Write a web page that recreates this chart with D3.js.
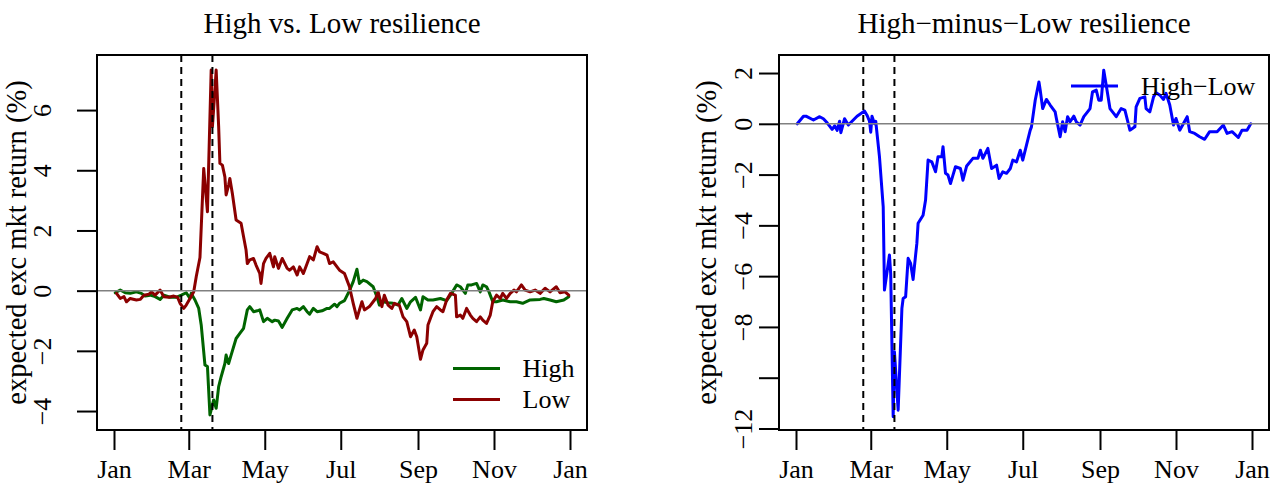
<!DOCTYPE html>
<html><head><meta charset="utf-8">
<script src="https://cdn.jsdelivr.net/npm/d3@7"></script>
<style>
html,body{margin:0;padding:0;background:#fff;}
svg{display:block;}
text{font-family:"Liberation Serif","Times New Roman",serif;fill:#000;}
</style></head><body>
<svg id="chart" width="1280" height="489"></svg>
<script>
// ---------------- data ----------------
// x values are days since 2020-01-01
const yearStart = "2020-01-01";
const monthTicks = ["2020-01-01","2020-03-01","2020-05-01","2020-07-01","2020-09-01","2020-11-01","2021-01-01"];
const eventDays = [54, 79];

const highDays = [1,5,9,13,18,22,25,29,33,37,
 40,45,50,54,58,61,62,65,68,70,
 73,75,77,80,82,84,86,89,90,92,
 94,98,101,104,107,109,112,115,117,120,
 123,127,129,132,135,139,143,147,149,152,
 155,157,160,163,167,171,173,177,179,181,
 185,189,192,195,197,200,203,208,211,213,
 216,220,224,228,231,235,238,242,246,248,
 252,256,262,267,271,275,278,282,284,287,
 291,294,296,299,301,304,307,312,318,323,
 328,334,342,345,350,355,361,365];
const highValues = [-0.07,0.02,-0.07,-0.09,-0.04,-0.09,-0.18,-0.15,-0.20,-0.29,
 -0.15,-0.22,-0.22,-0.15,-0.07,-0.26,-0.09,-0.31,-0.59,-1.14,
 -2.47,-2.52,-4.13,-3.63,-3.91,-3.19,-2.86,-2.42,-2.14,-2.42,
 -2.14,-1.59,-1.42,-1.25,-0.64,-0.53,-0.70,-0.67,-0.64,-1.03,
 -0.92,-1.03,-0.98,-1.01,-1.22,-0.92,-0.64,-0.59,-0.64,-0.53,
 -0.70,-0.78,-0.59,-0.70,-0.67,-0.59,-0.59,-0.45,-0.53,-0.42,
 -0.33,0.00,0.30,0.71,0.24,0.35,0.30,0.13,-0.20,-0.48,
 -0.37,-0.40,-0.42,-0.48,-0.26,-0.59,-0.37,-0.22,-0.64,-0.20,
 -0.31,-0.31,-0.26,-0.33,-0.09,0.19,0.13,-0.09,0.19,0.19,
 0.24,-0.04,0.19,0.13,-0.04,-0.37,-0.37,-0.31,-0.37,-0.37,
 -0.42,-0.31,-0.29,-0.26,-0.31,-0.37,-0.31,-0.20];

const lowDays = [2,5,8,10,13,18,21,24,28,30,
 33,37,40,44,48,51,53,56,58,61,
 64,66,69,72,75,78,79,81,82,84,
 85,87,89,90,92,93,95,98,102,104,
 106,107,109,112,114,117,118,120,122,125,
 128,129,132,135,139,141,144,147,149,152,
 155,157,160,163,165,168,171,173,176,179,
 181,185,187,189,192,195,197,199,201,205,
 208,210,212,215,217,220,223,225,229,232,
 235,238,241,243,246,248,251,252,254,256,
 259,262,264,267,270,274,275,278,280,283,
 286,288,291,294,296,299,302,304,307,310,
 312,315,318,321,323,327,330,334,338,342,
 346,350,355,358,362,365];
const lowValues = [-0.09,-0.26,-0.20,-0.37,-0.26,-0.31,-0.29,-0.15,-0.12,-0.04,
 -0.15,0.02,-0.20,-0.22,-0.18,-0.22,-0.42,-0.59,-0.48,-0.26,
 -0.04,0.46,1.10,4.06,2.62,7.33,5.45,6.66,7.33,5.45,
 4.23,4.17,3.78,3.18,3.51,3.73,3.23,2.35,2.24,1.79,
 1.35,0.90,1.02,1.07,0.85,0.57,0.24,0.90,1.07,1.24,
 0.79,1.13,0.74,1.07,0.74,0.68,0.79,0.52,0.79,0.57,
 0.90,1.13,1.02,1.46,1.29,1.24,1.18,0.90,0.96,0.79,
 0.68,0.57,0.35,0.13,-0.42,-0.92,-0.64,-0.37,-0.64,-0.53,
 -0.37,-0.26,-0.04,-0.53,-0.15,-0.48,-0.59,-0.42,-0.48,-0.87,
 -1.03,-1.53,-1.31,-1.53,-2.28,-1.97,-1.75,-1.14,-0.92,-0.70,
 -0.53,-0.64,-0.70,-0.31,-0.09,-0.15,-0.87,-0.81,-0.92,-0.59,
 -0.81,-0.92,-1.03,-0.87,-0.98,-1.09,-0.81,-0.37,-0.15,-0.26,
 -0.09,-0.26,-0.09,0.02,-0.04,0.19,0.02,-0.04,0.02,-0.09,
 0.08,-0.04,0.13,-0.07,-0.04,-0.15];

const diffDays = [1,6,8,14,19,22,25,29,31,33,
 35,36,39,42,45,49,55,57,59,60,
 61,63,64,67,70,71,75,76,78,79,
 82,85,86,88,90,92,94,96,97,98,
 102,104,106,109,112,114,117,118,120,122,
 124,126,128,132,134,137,142,146,148,150,
 154,157,161,163,166,169,172,174,177,180,
 182,185,188,189,192,195,196,198,201,204,
 208,209,212,214,216,218,220,223,225,228,
 231,234,236,238,241,243,245,247,249,252,
 255,257,261,264,268,272,273,276,280,281,
 284,287,289,292,295,297,300,303,305,308,
 314,316,320,324,328,332,338,343,346,350,
 355,358,362,365];
const diffValues = [0.00,0.30,0.30,0.15,0.28,0.20,0.04,-0.22,-0.08,-0.26,
 0.10,-0.35,0.20,-0.05,0.10,0.30,0.50,0.34,0.10,-0.33,
 0.30,0.00,0.10,-1.30,-3.27,-6.55,-5.17,-5.89,-11.54,-8.98,
 -11.28,-7.27,-6.88,-6.81,-5.30,-5.50,-6.13,-5.17,-4.71,-3.92,
 -3.60,-3.00,-1.43,-1.50,-1.89,-1.30,-1.30,-0.90,-1.95,-2.02,
 -2.35,-2.02,-1.69,-1.76,-2.22,-1.66,-1.36,-1.36,-1.04,-1.36,
 -0.97,-1.76,-1.63,-2.15,-1.89,-1.95,-1.76,-1.43,-1.50,-1.04,
 -1.43,-0.84,-0.25,-0.12,0.93,1.65,1.33,0.60,0.96,0.74,
 0.47,0.21,-0.51,0.08,-0.31,0.28,0.08,0.30,0.08,-0.05,
 0.28,0.47,0.60,1.26,1.33,0.93,0.93,2.11,1.52,0.60,
 0.41,0.28,0.60,0.54,-0.25,-0.12,0.67,1.00,1.06,0.60,
 0.47,1.06,1.22,1.13,0.96,1.20,0.74,-0.05,0.21,-0.25,
 0.28,-0.31,-0.38,-0.51,-0.61,-0.31,-0.31,-0.05,-0.38,-0.31,
 -0.54,-0.25,-0.25,0.00];

const leftTicks = [-4,-2,0,2,4,6];
const leftTickLabels = ["−4","−2","0","2","4","6"];
const rightTicks = [2,0,-2,-4,-6,-8,-10,-12];
const rightTickLabels = ["2","0","−2","−4","−6","−8","","−12"];

const leftTitle = "High vs. Low resilience";
const rightTitle = "High−minus−Low resilience";
const yLabel = "expected exc mkt return (%)";
const leftLegend = ["High","Low"];
const rightLegend = ["High−Low"];

// ---------------- drawing ----------------
const parse = d3.timeParse("%Y-%m-%d");
const t0 = parse(yearStart);
const toDate = d => d3.timeDay.offset(t0, d);
const svg = d3.select("#chart");
const FONT_TICK = 26, FONT_LAB = 28.5, FONT_TITLE = 29, FONT_LEG = 26;

function series(days, vals){ return d3.zip(days, vals).map(([d,v]) => ({date: toDate(d), value: v})); }

function drawPanel(cfg){
  const g = svg.append("g");
  const x = d3.scaleTime().domain([parse(monthTicks[0]), parse(monthTicks[monthTicks.length-1])]).range(cfg.xRange);
  const y = d3.scaleLinear().domain(cfg.yDomain).range([cfg.bottom, cfg.top]);
  const line = d3.line().x(d => x(d.date)).y(d => y(d.value));

  cfg.series.forEach(s => {
    g.append("path").datum(s.data).attr("d", line)
      .attr("fill","none").attr("stroke", s.color).attr("stroke-width", 3)
      .attr("stroke-linejoin","round").attr("stroke-linecap","round");
  });
  // zero line
  g.append("line").attr("x1", cfg.left).attr("x2", cfg.right)
    .attr("y1", y(0)).attr("y2", y(0)).attr("stroke","#808080").attr("stroke-width",1.5);
  // event lines
  eventDays.forEach(d => {
    g.append("line").attr("x1", x(toDate(d))).attr("x2", x(toDate(d)))
      .attr("y1", cfg.top).attr("y2", cfg.bottom)
      .attr("stroke","#000").attr("stroke-width",2).attr("stroke-dasharray","7,5");
  });
  // box
  g.append("rect").attr("x", cfg.left).attr("y", cfg.top)
    .attr("width", cfg.right - cfg.left).attr("height", cfg.bottom - cfg.top)
    .attr("fill","none").attr("stroke","#000").attr("stroke-width",2);

  // x axis
  const xa = g.append("g").attr("transform", `translate(0,${cfg.bottom})`)
    .call(d3.axisBottom(x).tickValues(monthTicks.map(parse)).tickFormat(d3.timeFormat("%b")).tickSize(20).tickSizeOuter(0));
  xa.select(".domain").remove();
  xa.selectAll(".tick line").attr("stroke","#000").attr("stroke-width",2);
  xa.selectAll(".tick text").attr("y", 48).attr("dy", 0)
    .style("font-size", FONT_TICK + "px").style("font-family", '"Liberation Serif",serif');

  // y axis
  const ya = g.append("g").attr("transform", `translate(${cfg.left},0)`)
    .call(d3.axisLeft(y).tickValues(cfg.ticks).tickFormat((d,i) => cfg.tickLabels[i]).tickSize(20).tickSizeOuter(0));
  ya.select(".domain").remove();
  ya.selectAll(".tick line").attr("stroke","#000").attr("stroke-width",2);
  ya.selectAll(".tick text").attr("transform","rotate(-90)").attr("x",0).attr("y", -cfg.tickLabelOffset)
    .attr("dy",0).attr("text-anchor","middle")
    .style("font-size", FONT_TICK + "px").style("font-family", '"Liberation Serif",serif');

  // y label
  g.append("text").attr("transform", `translate(${cfg.yLabelX},${(cfg.top+cfg.bottom)/2}) rotate(-90)`)
    .attr("text-anchor","middle").style("font-size", FONT_LAB + "px").text(yLabel);
  // title
  g.append("text").attr("x", (cfg.left+cfg.right)/2).attr("y", 32.5)
    .attr("text-anchor","middle").style("font-size", FONT_TITLE + "px").text(cfg.title);

  // legend
  cfg.legend.forEach((L, i) => {
    g.append("line").attr("x1", L.x1).attr("x2", L.x2).attr("y1", L.y).attr("y2", L.y)
      .attr("stroke", L.color).attr("stroke-width", 3);
    g.append("text").attr("x", L.tx).attr("y", L.y).attr("dy","0.33em")
      .style("font-size", FONT_LEG + "px").text(L.label);
  });
}

drawPanel({
  left: 97, right: 587, top: 55, bottom: 430,
  xRange: [114, 570], yDomain: [-4.63, 7.83],
  ticks: leftTicks, tickLabels: leftTickLabels, tickLabelOffset: 46, yLabelX: 26,
  title: leftTitle,
  series: [
    {data: series(highDays, highValues), color: "#006400"},
    {data: series(lowDays, lowValues), color: "#8B0000"}
  ],
  legend: [
    {label: leftLegend[0], color: "#006400", x1: 453, x2: 500, y: 368.5, tx: 522.5},
    {label: leftLegend[1], color: "#8B0000", x1: 453, x2: 500, y: 399.5, tx: 522.5}
  ]
});

drawPanel({
  left: 779, right: 1269, top: 55, bottom: 430,
  xRange: [796, 1252], yDomain: [-12.06, 2.71],
  ticks: rightTicks, tickLabels: rightTickLabels, tickLabelOffset: 27, yLabelX: 716,
  title: rightTitle,
  series: [
    {data: series(diffDays, diffValues), color: "#0000FF"}
  ],
  legend: [
    {label: rightLegend[0], color: "#0000FF", x1: 1071, x2: 1118, y: 86, tx: 1141}
  ]
});
</script>
</body></html>
